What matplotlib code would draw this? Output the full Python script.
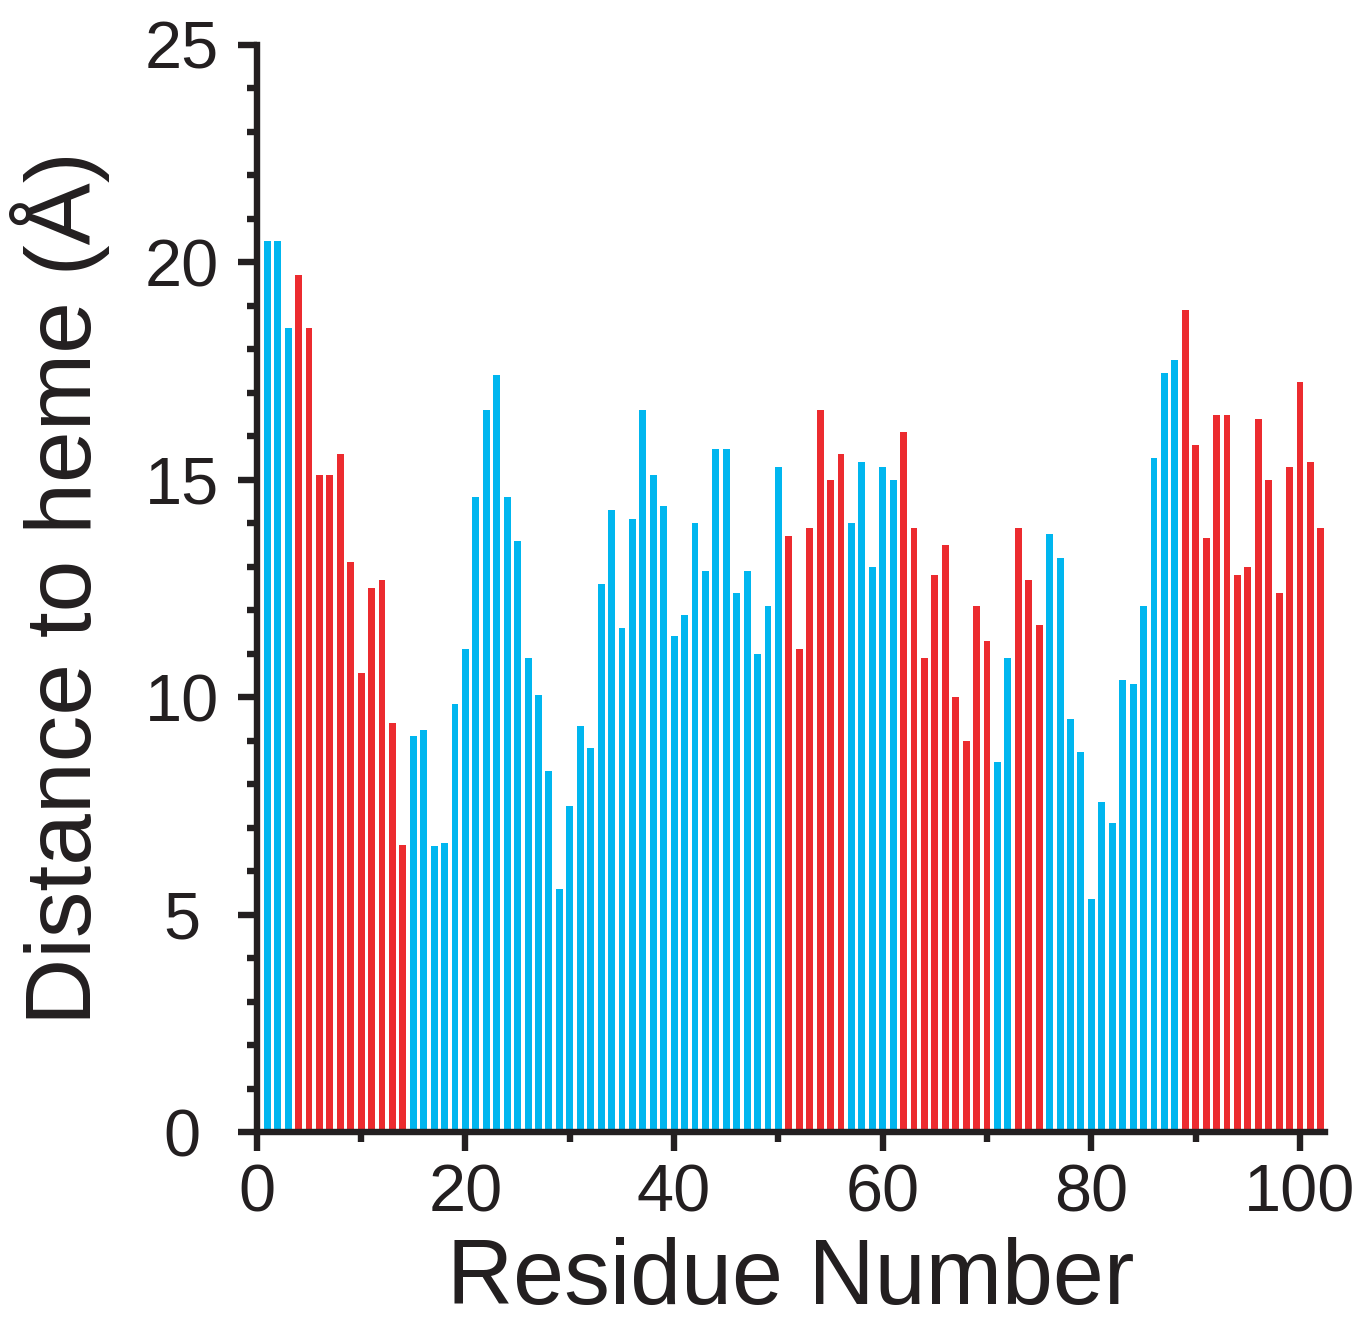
import matplotlib
matplotlib.use("Agg")
import matplotlib.pyplot as plt
from matplotlib.ticker import MultipleLocator

plt.rcParams['font.family'] = ['Liberation Sans', 'DejaVu Sans']

# distance of each residue to heme (A), 'b' = blue, 'r' = red
residues = list(range(1, 103))
distance = [
    20.5, 20.5, 18.5, 19.7, 18.5, 15.1, 15.1, 15.6, 13.1, 10.55,
    12.5, 12.7, 9.4, 6.6, 9.1, 9.24, 6.57, 6.64, 9.84, 11.1,
    14.6, 16.6, 17.4, 14.6, 13.6, 10.9, 10.05, 8.3, 5.6, 7.5,
    9.33, 8.83, 12.6, 14.3, 11.6, 14.1, 16.6, 15.1, 14.4, 11.4,
    11.9, 14.0, 12.9, 15.7, 15.7, 12.4, 12.9, 11.0, 12.1, 15.3,
    13.7, 11.1, 13.9, 16.6, 15.0, 15.6, 14.0, 15.4, 13.0, 15.3,
    15.0, 16.1, 13.9, 10.9, 12.8, 13.5, 10.0, 9.0, 12.1, 11.3,
    8.5, 10.9, 13.9, 12.7, 11.65, 13.75, 13.2, 9.5, 8.75, 5.35,
    7.6, 7.1, 10.4, 10.3, 12.1, 15.5, 17.45, 17.75, 18.9, 15.8,
    13.65, 16.5, 16.5, 12.8, 13.0, 16.4, 15.0, 12.4, 15.3, 17.25,
    15.4, 13.9,
]
group = (
    "bbbrrrrrrrrrrr"        # 1-14
    "bbbbbbbbbbbbbbbbbbbbbbbbbbbbbbbbbbbb"  # 15-50
    "rrrrrr"                # 51-56
    "bbbbb"                 # 57-61
    "rrrrrrrrr"             # 62-70
    "bb"                    # 71-72
    "rrr"                   # 73-75
    "bbbbbbbbbbbbb"         # 76-88
    "rrrrrrrrrrrrrr"        # 89-102
)
palette = {'b': '#00B6EF', 'r': '#EC2B2F'}
colors = [palette[g] for g in group]
ink = '#231F20'

fig = plt.figure(figsize=(13.59, 13.2), dpi=100)
ax = fig.add_axes([0.189, 0.1424, 0.786, 0.8236])

ax.bar(residues, distance, width=0.66, color=colors, edgecolor='none')

ax.set_xlim(0, 102.4)
ax.set_ylim(0, 25)
ax.xaxis.set_major_locator(MultipleLocator(20))
ax.xaxis.set_minor_locator(MultipleLocator(10))
ax.yaxis.set_major_locator(MultipleLocator(5))
ax.yaxis.set_minor_locator(MultipleLocator(1))

for s in ['top', 'right']:
    ax.spines[s].set_visible(False)
for s in ['left', 'bottom']:
    ax.spines[s].set_linewidth(4.6)
    ax.spines[s].set_color(ink)

ax.tick_params(which='major', direction='out', length=14, width=4.6,
               color=ink, labelcolor=ink, labelsize=48)
ax.tick_params(which='minor', direction='out', length=7, width=4.6,
               color=ink)
ax.tick_params(axis='x', which='major', pad=9)
ax.tick_params(axis='y', which='major', pad=40)
for lab in ax.get_yticklabels():
    lab.set_horizontalalignment('center')

ax.set_xlabel("Residue Number", fontsize=66, color=ink, labelpad=8)
ax.set_ylabel("Distance to heme (Å)", fontsize=67, color=ink, labelpad=25)

fig.savefig("out.png", dpi=100)
